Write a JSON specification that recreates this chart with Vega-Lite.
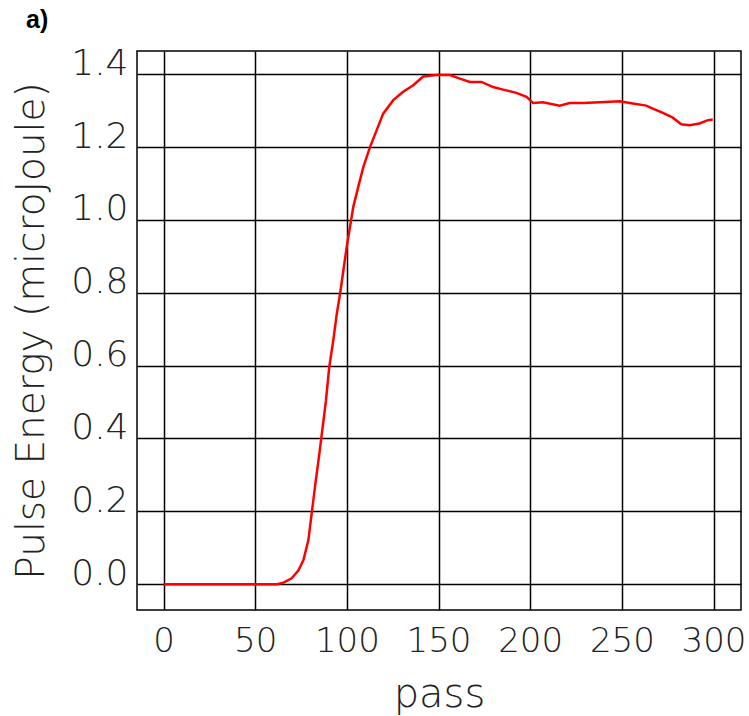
{
  "$schema": "https://vega.github.io/schema/vega-lite/v6.json",
  "width": 604,
  "height": 559,
  "autosize": {"type": "none"},
  "padding": {"left": 137, "top": 51, "right": 8, "bottom": 106},
  "background": "white",
  "title": {"text": "a)", "anchor": "start", "frame": "group", "dx": -111, "dy": -12, "fontSize": 25, "fontWeight": "bold", "font": "Liberation Sans", "color": "black", "offset": 0},
  "data": {"values": [
    {"pass": 0, "energy": 0.0},
    {"pass": 30, "energy": 0.0},
    {"pass": 61.8, "energy": 0.0},
    {"pass": 65.4, "energy": 0.004},
    {"pass": 69.9, "energy": 0.016},
    {"pass": 73.6, "energy": 0.038},
    {"pass": 76.3, "energy": 0.066},
    {"pass": 79.0, "energy": 0.121},
    {"pass": 80.8, "energy": 0.194},
    {"pass": 82.6, "energy": 0.267},
    {"pass": 85.0, "energy": 0.359},
    {"pass": 86.8, "energy": 0.432},
    {"pass": 88.6, "energy": 0.505},
    {"pass": 90.4, "energy": 0.597},
    {"pass": 92.6, "energy": 0.670},
    {"pass": 94.5, "energy": 0.743},
    {"pass": 96.3, "energy": 0.798},
    {"pass": 98.1, "energy": 0.862},
    {"pass": 99.9, "energy": 0.926},
    {"pass": 101.7, "energy": 0.981},
    {"pass": 103.5, "energy": 1.036},
    {"pass": 106.2, "energy": 1.091},
    {"pass": 109.0, "energy": 1.146},
    {"pass": 112.6, "energy": 1.200},
    {"pass": 116.2, "energy": 1.246},
    {"pass": 119.8, "energy": 1.292},
    {"pass": 125.3, "energy": 1.329},
    {"pass": 130.7, "energy": 1.352},
    {"pass": 136.2, "energy": 1.370},
    {"pass": 141.6, "energy": 1.394},
    {"pass": 148.9, "energy": 1.398},
    {"pass": 156.2, "energy": 1.398},
    {"pass": 161.6, "energy": 1.388},
    {"pass": 167.1, "energy": 1.379},
    {"pass": 173.4, "energy": 1.379},
    {"pass": 179.8, "energy": 1.365},
    {"pass": 185.2, "energy": 1.358},
    {"pass": 192.5, "energy": 1.349},
    {"pass": 198.0, "energy": 1.338},
    {"pass": 201.6, "energy": 1.321},
    {"pass": 207.0, "energy": 1.323},
    {"pass": 216.1, "energy": 1.314},
    {"pass": 221.5, "energy": 1.321},
    {"pass": 228.8, "energy": 1.321},
    {"pass": 237.9, "energy": 1.323},
    {"pass": 248.8, "energy": 1.326},
    {"pass": 256.0, "energy": 1.320},
    {"pass": 263.3, "energy": 1.314},
    {"pass": 266.9, "energy": 1.306},
    {"pass": 272.4, "energy": 1.294},
    {"pass": 277.8, "energy": 1.281},
    {"pass": 282.4, "energy": 1.263},
    {"pass": 286.9, "energy": 1.260},
    {"pass": 292.4, "energy": 1.265},
    {"pass": 296.9, "energy": 1.274},
    {"pass": 299.6, "energy": 1.276}
  ]},
  "mark": {"type": "line", "color": "#ff0000", "strokeWidth": 2.5, "clip": true},
  "encoding": {
    "x": {
      "field": "pass", "type": "quantitative",
      "scale": {"domain": [-14.5, 315], "nice": false, "zero": false},
      "axis": {
        "title": "pass", "values": [0, 50, 100, 150, 200, 250, 300],
        "ticks": false, "labelPadding": 14, "labelFontSize": 34, "labelFont": "DejaVu Sans", "labelFontWeight": 200,
        "labelColor": "#222", "labelFlush": false,
        "titleFontSize": 40, "titleFont": "DejaVu Sans", "titleFontWeight": 200, "titleColor": "#222", "titlePadding": 16,
        "grid": true, "gridColor": "black", "gridWidth": 1.5, "gridOpacity": 1,
        "domain": false
      }
    },
    "y": {
      "field": "energy", "type": "quantitative",
      "scale": {"domain": [-0.071, 1.464], "nice": false, "zero": false},
      "axis": {
        "title": "Pulse Energy (microJoule)", "values": [0, 0.2, 0.4, 0.6, 0.8, 1.0, 1.2, 1.4], "format": ".1f",
        "ticks": false, "labelPadding": 9, "labelFontSize": 36, "labelFont": "DejaVu Sans", "labelFontWeight": 200,
        "labelColor": "#222", "labelBaseline": "alphabetic", "labelFlush": false,
        "titleFontSize": 39, "titleFont": "DejaVu Sans", "titleFontWeight": 200, "titleColor": "#222", "titlePadding": 19,
        "grid": true, "gridColor": "black", "gridWidth": 1.5, "gridOpacity": 1,
        "domain": false
      }
    }
  },
  "config": {"view": {"stroke": "black", "strokeWidth": 1.5}}
}
